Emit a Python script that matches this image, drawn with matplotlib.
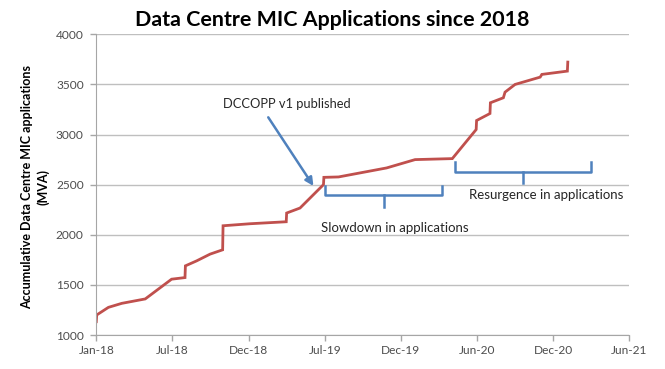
import numpy as np
import pandas as pd
import matplotlib
matplotlib.use("Agg")
import matplotlib.pyplot as plt
import matplotlib.dates as mdates

# cumulative MVA
dates = ["2018-01-01", "2018-01-02", "2018-01-30", "2018-03-03", "2018-04-28",
         "2018-06-30", "2018-08-01", "2018-08-02", "2018-08-29", "2018-09-30",
         "2018-10-30", "2018-10-31", "2019-01-03", "2019-03-31", "2019-04-01",
         "2019-05-03", "2019-06-28", "2019-06-29", "2019-08-03", "2019-11-26",
         "2020-02-02", "2020-05-01", "2020-06-27", "2020-06-28", "2020-07-30",
         "2020-07-31", "2020-08-31", "2020-09-04", "2020-09-28", "2020-11-27",
         "2020-12-01", "2021-01-31", "2021-02-01"]
mva = [1133, 1200, 1276, 1316, 1360,
       1557, 1573, 1690, 1740, 1807,
       1850, 2090, 2110, 2130, 2217,
       2267, 2500, 2573, 2577, 2667,
       2750, 2760, 3050, 3140, 3210,
       3317, 3367, 3423, 3500, 3573,
       3600, 3633, 3723]

yticks = [1000, 1500, 2000, 2500, 3000, 3500, 4000]

# annotation positions (date, value)
arrow_from = ("2019-02-16", 3172)
arrow_to = ("2019-06-04", 2487)
slow_brace = ("2019-07-02", "2020-04-06", "2019-11-20", 2487, 2397, 2277)
resurg_brace = ("2020-05-07", "2021-03-29", "2020-10-18", 2729, 2629, 2520)

red = "#C0504D"
blue = "#4F81BD"
grey = "#A6A6A6"
tick_col = "#4D4D4D"

plt.rcParams["font.family"] = ["Lato", "DejaVu Sans"]

fig = plt.figure(figsize=(6.65, 3.69), dpi=100)
ax = fig.add_axes([0.1448, 0.0921, 0.8015, 0.8149])

x = pd.to_datetime(dates)
ax.plot(x, mva, color=red, lw=2.0, solid_joinstyle="miter")

ax.set_ylim(1000, 4000)
ax.set_yticks(yticks)
ax.yaxis.grid(True, color="#BFBFBF", lw=1)
ax.set_axisbelow(True)

xt = pd.date_range("2018-01-01", periods=8, freq="182D")
ax.set_xticks(xt)
ax.set_xlim(xt[0], xt[-1])
ax.xaxis.set_major_formatter(mdates.DateFormatter("%b-%y"))

for s in ["top", "right"]:
    ax.spines[s].set_visible(False)
for s in ["left", "bottom"]:
    ax.spines[s].set_color(grey)
ax.tick_params(axis="both", colors=grey, length=4, width=1, labelsize=8.6,
               labelcolor=tick_col)
ax.tick_params(axis="y", pad=5)

fig.text(0.5, 0.946, "Data Centre MIC Applications since 2018",
         ha="center", va="center", fontsize=15.4, fontweight="bold")
fig.text(0.053, 0.492, "Accumulative Data Centre MIC applications\n(MVA)",
         rotation=90, ha="center", va="center", fontsize=9.0,
         fontweight="bold", linespacing=1.35)

# arrow and label
ax.annotate("", xy=(pd.Timestamp(arrow_to[0]), arrow_to[1]),
            xytext=(pd.Timestamp(arrow_from[0]), arrow_from[1]),
            arrowprops=dict(arrowstyle="-|>", color=blue, lw=1.8,
                            mutation_scale=12, shrinkA=0, shrinkB=0))
ax.text(pd.Timestamp("2019-04-02"), 3305, "DCCOPP v1 published",
        ha="center", va="center", fontsize=9.3, color="#262626")


def brace(b):
    x0, x1, xm = pd.Timestamp(b[0]), pd.Timestamp(b[1]), pd.Timestamp(b[2])
    top, mid, bot = b[3], b[4], b[5]
    ax.plot([x0, x0, x1, x1], [top, mid, mid, top], color=blue, lw=1.8)
    ax.plot([xm, xm], [mid, bot], color=blue, lw=1.8)


brace(slow_brace)
brace(resurg_brace)

ax.text(pd.Timestamp("2019-12-15"), 2070, "Slowdown in applications",
        ha="center", va="center", fontsize=9.5, color="#262626")
ax.text(pd.Timestamp("2020-12-12"), 2395, "Resurgence in applications",
        ha="center", va="center", fontsize=9.5, color="#262626")

fig.savefig("out.png", dpi=100)
